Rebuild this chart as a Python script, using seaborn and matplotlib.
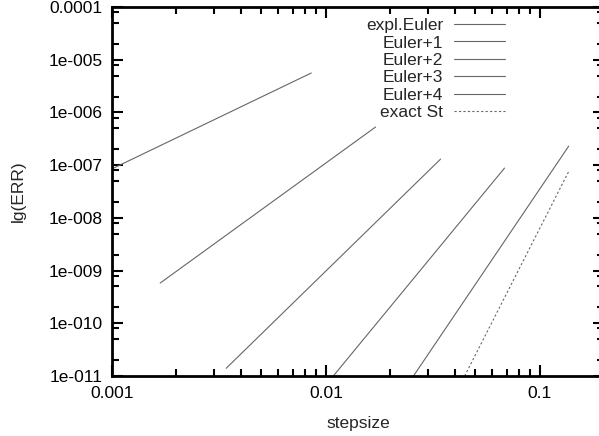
import matplotlib
matplotlib.use("Agg")
import matplotlib.pyplot as plt
import matplotlib.ticker as mticker
import seaborn as sns
import pandas as pd

# ---- data ----
names = ["expl.Euler", "Euler+1", "Euler+2", "Euler+3", "Euler+4", "exact St"]
h_expl = [0.001, 0.00855]
e_expl = [8.5e-8, 5.6e-6]
h_e1 = [0.00168, 0.0171]
e_e1 = [5.8e-10, 5.3e-7]
h_e2 = [0.00342, 0.0344]
e_e2 = [1.4e-11, 1.3e-7]
h_e3 = [0.01084, 0.0685]
e_e3 = [1.0e-11, 8.8e-8]
h_e4 = [0.0257, 0.1368]
e_e4 = [1.0e-11, 2.3e-7]
h_ex = [0.0446, 0.1368]
e_ex = [1.0e-11, 7.6e-8]

xticks = [0.001, 0.01, 0.1]
xticklabels = ["0.001", "0.01", "0.1"]
yticks = [1e-11, 1e-10, 1e-9, 1e-8, 1e-7, 1e-6, 1e-5, 1e-4]
yticklabels = ["1e-011", "1e-010", "1e-009", "1e-008", "1e-007", "1e-006", "1e-005", "0.0001"]

series = [(h_expl, e_expl), (h_e1, e_e1), (h_e2, e_e2), (h_e3, e_e3), (h_e4, e_e4), (h_ex, e_ex)]
styles = ["-", "-", "-", "-", "-", (0, (2, 2))]

FS = 12.5
sns.set_style("ticks")
plt.rcParams["font.family"] = ["Liberation Sans", "DejaVu Sans"]
plt.rcParams["font.size"] = FS

fig = plt.figure(figsize=(5.99, 4.36), dpi=100)
ax = fig.add_axes([112 / 599, 60 / 436, 492 / 599, 369 / 436])

line_color = "#666666"
for name, (hx, ey), ls in zip(names, series, styles):
    df = pd.DataFrame({"h": hx, "err": ey})
    sns.lineplot(data=df, x="h", y="err", ax=ax, color=line_color, lw=0.8,
                 linestyle=ls, label=name)

ax.set_xscale("log")
ax.set_yscale("log")
ax.set_xlim(0.001, 0.2)
ax.set_ylim(1e-11, 1e-4)

ax.xaxis.set_major_locator(mticker.FixedLocator(xticks))
ax.xaxis.set_major_formatter(mticker.FixedFormatter(xticklabels))
ax.xaxis.set_minor_locator(mticker.LogLocator(base=10, subs=range(2, 10), numticks=20))
ax.xaxis.set_minor_formatter(mticker.NullFormatter())
ax.yaxis.set_major_locator(mticker.FixedLocator(yticks))
ax.yaxis.set_major_formatter(mticker.FixedFormatter(yticklabels))
ax.yaxis.set_minor_locator(mticker.LogLocator(base=10, subs=(2, 5, 8), numticks=20))
ax.yaxis.set_minor_formatter(mticker.NullFormatter())

ax.tick_params(which="both", direction="in", top=True, right=True, colors="black",
               labelsize=FS, pad=7)
ax.tick_params(which="major", length=8, width=1.5)
ax.tick_params(which="minor", length=5, width=1.5)
for sp in ax.spines.values():
    sp.set_visible(True)
    sp.set_linewidth(2)
    sp.set_color("black")

ax.set_xlabel("stepsize", fontsize=FS, labelpad=11)
ax.set_ylabel("lg(ERR)", fontsize=FS, labelpad=16)

leg = ax.legend(loc="upper right", bbox_to_anchor=(505 / 599, 1 - 18 / 436),
                bbox_transform=fig.transFigure, frameon=False, markerfirst=False,
                borderpad=0, borderaxespad=0, handlelength=2.95, handletextpad=0.6,
                labelspacing=0.13, fontsize=FS)

fig.savefig("out.png", dpi=100)
